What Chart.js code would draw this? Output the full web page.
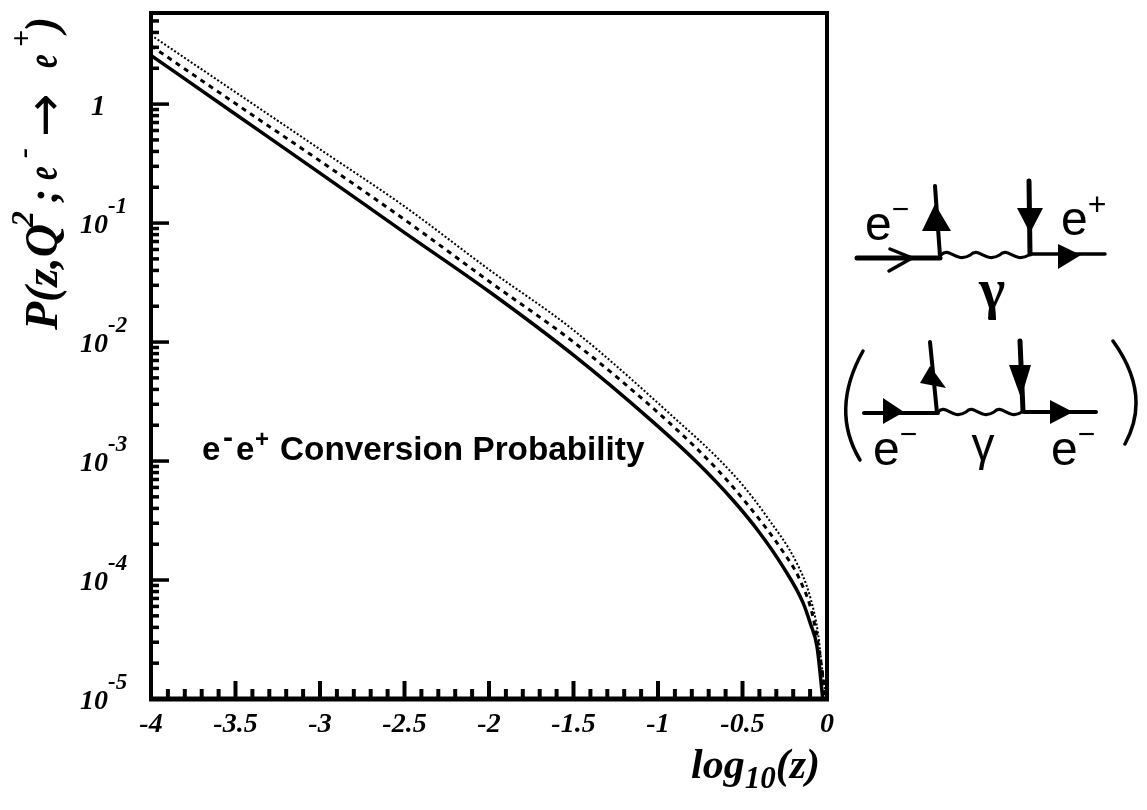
<!DOCTYPE html>
<html>
<head>
<meta charset="utf-8">
<title>Conversion probability</title>
<script src="https://cdn.jsdelivr.net/npm/chart.js@4/dist/chart.umd.min.js"></script>
<style>
html, body { margin: 0; padding: 0; background: #fff; }
canvas { display: block; }
</style>
</head>
<body>
<canvas id="chart" width="1147" height="810"></canvas>
<script>
const solidX = [-4, -3.5, -3, -2.5, -2, -1.5, -1.047, -0.77, -0.556, -0.4, -0.26, -0.142, -0.1, -0.059, -0.025];
const solidP = [2.57, 0.822, 0.263, 0.0832, 0.0266, 0.00776, 0.00224, 0.000977, 0.000468, 0.000251, 0.000129, 0.0000646, 0.0000437, 0.0000275, 0.00001];
const dashedX = [-4, -3.5, -3, -2.5, -2, -1.5, -0.94, -0.65, -0.456, -0.266, -0.16, -0.083, -0.03, -0.01];
const dashedP = [3.09, 1.01, 0.333, 0.107, 0.0324, 0.01, 0.00214, 0.000851, 0.000407, 0.000178, 0.0001, 0.000049, 0.0000178, 0.00001];
const dottedX = [-4, -3.5, -3, -2.5, -2, -1.5, -0.87, -0.65, -0.5, -0.355, -0.178, -0.1, -0.053, -0.024, -0.004];
const dottedP = [3.8, 1.26, 0.417, 0.138, 0.0407, 0.0126, 0.00209, 0.00107, 0.00063, 0.000339, 0.000138, 0.0000724, 0.0000355, 0.0000158, 0.00001];

const xTickValues = [-4, -3.5, -3, -2.5, -2, -1.5, -1, -0.5, 0];
const xTickLabels = ['-4', '-3.5', '-3', '-2.5', '-2', '-1.5', '-1', '-0.5', '0'];
const yDecades = [0.00001, 0.0001, 0.001, 0.01, 0.1, 1];
const yExponents = ['-5', '-4', '-3', '-2', '-1', ''];
const yMultiples = [2, 3, 4, 5, 6, 7, 8, 9];

const serif = '"Liberation Serif", serif';
const sans = '"Liberation Sans", sans-serif';
const dejavu = '"DejaVu Sans", sans-serif';

function points(xs, ys) {
    return xs.map((x, i) => ({ x: x, y: ys[i] }));
}

// text runs with their own size and baseline shift (super/subscripts)
// at = offset from the start, sx = horizontal squeeze of the glyphs
function drawRuns(ctx, runs, x, y, style, family) {
    ctx.textAlign = 'left';
    ctx.textBaseline = 'alphabetic';
    let cur = x;
    runs.forEach(r => {
        ctx.font = (r.style || style) + ' ' + r.size + 'px ' + (r.family || family);
        if (r.at !== undefined) cur = x + r.at;
        const sx = r.sx || 1;
        ctx.save();
        ctx.translate(cur, y + (r.dy || 0));
        ctx.scale(sx, 1);
        ctx.fillText(r.text, 0, 0);
        ctx.restore();
        cur += ctx.measureText(r.text).width * sx + (r.gap || 0);
    });
}

function line(ctx, pts, w) {
    ctx.lineWidth = w;
    ctx.beginPath();
    pts.forEach((p, i) => i ? ctx.lineTo(p[0], p[1]) : ctx.moveTo(p[0], p[1]));
    ctx.stroke();
}

function tri(ctx, pts) {
    ctx.beginPath();
    pts.forEach((p, i) => i ? ctx.lineTo(p[0], p[1]) : ctx.moveTo(p[0], p[1]));
    ctx.closePath();
    ctx.fill();
}

function wave(ctx, x0, x1, y, humps) {
    const step = (x1 - x0) / humps;
    ctx.lineWidth = 3.2;
    ctx.beginPath();
    ctx.moveTo(x0, y);
    for (let i = 0; i < humps; i++) {
        const x = x0 + i * step;
        ctx.bezierCurveTo(x + step * 0.3, y - 9, x + step * 0.5, y + 9, x + step, y);
    }
    ctx.stroke();
}

function drawDiagrams(ctx) {
    ctx.save();
    ctx.strokeStyle = '#000';
    ctx.fillStyle = '#000';
    ctx.lineCap = 'round';

    // upper graph
    line(ctx, [[857, 258], [940, 258]], 5);
    line(ctx, [[890, 249], [912, 258], [889, 271]], 3.5);
    line(ctx, [[940, 256], [935, 186]], 4);
    tri(ctx, [[922, 231], [951, 231], [935, 204]]);
    wave(ctx, 941, 1029, 255, 3);
    line(ctx, [[1030, 254], [1029, 181]], 5);
    tri(ctx, [[1017, 208], [1043, 208], [1030, 233]]);
    line(ctx, [[1030, 254], [1105, 254]], 3.5);
    tri(ctx, [[1058, 244], [1058, 269], [1081, 255]]);
    drawRuns(ctx, [{ text: 'e', size: 48 }, { text: '−', size: 30, dy: -21 }], 865, 240, 'normal', sans);
    drawRuns(ctx, [{ text: 'e', size: 48 }, { text: '+', size: 32, dy: -20 }], 1061, 235, 'normal', sans);
    ctx.font = 'bold 56px ' + serif;
    ctx.textAlign = 'center';
    ctx.fillText('γ', 992, 308);

    // lower graph
    line(ctx, [[864, 413], [938, 413]], 4);
    tri(ctx, [[883, 398], [883, 424], [904, 412]]);
    line(ctx, [[937, 413], [930, 342]], 4);
    tri(ctx, [[920, 383], [946, 388], [930, 366]]);
    wave(ctx, 938, 1022, 412, 3);
    line(ctx, [[1023, 411], [1020, 341]], 5);
    tri(ctx, [[1009, 365], [1031, 365], [1021, 398]]);
    line(ctx, [[1024, 412], [1096, 412]], 4);
    tri(ctx, [[1050, 400], [1050, 424], [1073, 412]]);
    drawRuns(ctx, [{ text: 'e', size: 48 }, { text: '−', size: 30, dy: -21 }], 873, 465, 'normal', sans);
    ctx.font = 'normal 46px ' + sans;
    ctx.textAlign = 'center';
    ctx.fillText('γ', 983, 460);
    drawRuns(ctx, [{ text: 'e', size: 48 }, { text: '−', size: 30, dy: -21 }], 1051, 465, 'normal', sans);

    // brackets
    ctx.lineWidth = 3.5;
    ctx.beginPath();
    ctx.moveTo(863, 351);
    ctx.quadraticCurveTo(830, 410, 860, 460);
    ctx.stroke();
    ctx.beginPath();
    ctx.moveTo(1113, 341);
    ctx.quadraticCurveTo(1152, 395, 1125, 444);
    ctx.stroke();
    ctx.restore();
}

const framePlugin = {
    id: 'frame',
    afterDatasetsDraw(chart) {
        const ctx = chart.ctx;
        const a = chart.chartArea;
        const xs = chart.scales.x;
        const ys = chart.scales.y;
        ctx.save();
        ctx.strokeStyle = '#000';
        ctx.fillStyle = '#000';
        ctx.lineCap = 'butt';

        // inward ticks
        for (let i = 0; i <= 40; i++) {
            const v = -4 + i / 10;
            const major = i % 5 === 0;
            const px = xs.getPixelForValue(v);
            line(ctx, [[px, a.bottom], [px, a.bottom - (major ? 18 : 10)]], 4);
        }
        yDecades.forEach(d => {
            const py = ys.getPixelForValue(d);
            line(ctx, [[a.left, py], [a.left + 18, py]], 3.5);
            yMultiples.forEach(m => {
                const v = d * m;
                if (v <= ys.max) {
                    const p = ys.getPixelForValue(v);
                    line(ctx, [[a.left, p], [a.left + 8, p]], 3.5);
                }
            });
        });

        // frame
        ctx.lineWidth = 4;
        ctx.strokeRect(a.left, a.top, a.right - a.left, a.bottom - a.top);
        line(ctx, [[a.left - 2, a.bottom], [a.right + 2, a.bottom]], 5);

        // y tick labels
        yDecades.forEach((d, i) => {
            const py = ys.getPixelForValue(d);
            if (yExponents[i]) {
                drawRuns(ctx, [{ text: '10', size: 28 }, { text: yExponents[i], size: 23, dy: -20 }], 80, py + 10, 'italic bold', serif);
            } else {
                drawRuns(ctx, [{ text: '1', size: 29 }], 91, py + 11, 'italic bold', serif);
            }
        });

        // axis titles
        drawRuns(ctx, [
            { text: 'log', size: 42 },
            { text: '10', size: 31, dy: 10 },
            { text: '(z)', size: 42 }
        ], 691, 778, 'italic bold', serif);

        ctx.save();
        ctx.translate(57, 330);
        ctx.rotate(-Math.PI / 2);
        drawRuns(ctx, [
            { text: 'P(z,Q', size: 46, at: 0 },
            { text: '2', size: 32, dy: -24, at: 103 },
            { text: ';', size: 42, at: 127 },
            { text: 'e', size: 44, at: 150, sx: 0.7 },
            { text: '-', size: 30, dy: -24, at: 172 },
            { text: '→', size: 52, dy: 5, at: 193, style: 'normal', family: dejavu },
            { text: 'e', size: 44, at: 262, sx: 0.7 },
            { text: '+', size: 30, dy: -26, at: 283 },
            { text: ')', size: 46, at: 298 }
        ], 0, 0, 'italic bold', serif);
        ctx.restore();

        // inset note
        drawRuns(ctx, [
            { text: 'e', size: 33, at: 0 },
            { text: '-', size: 30, dy: -13, at: 21 },
            { text: 'e', size: 33, at: 34 },
            { text: '+', size: 24, dy: -13, at: 53 },
            { text: 'Conversion Probability', size: 33.3, at: 78 }
        ], 202, 460, 'bold', sans);

        ctx.restore();
        drawDiagrams(ctx);
    }
};

new Chart(document.getElementById('chart').getContext('2d'), {
    type: 'line',
    plugins: [framePlugin],
    data: {
        datasets: [{
            label: 'solid',
            data: points(solidX, solidP),
            borderColor: '#000',
            borderWidth: 3.5
        }, {
            label: 'dashed',
            data: points(dashedX, dashedP),
            borderColor: '#000',
            borderWidth: 3,
            borderDash: [5, 5]
        }, {
            label: 'dotted',
            data: points(dottedX, dottedP),
            borderColor: '#000',
            borderWidth: 2,
            borderDash: [2, 2]
        }]
    },
    options: {
        responsive: false,
        animation: false,
        parsing: { xAxisKey: 'x', yAxisKey: 'y' },
        elements: {
            point: { radius: 0 },
            line: { cubicInterpolationMode: 'monotone' }
        },
        layout: { padding: { left: 151, top: 13, right: 320, bottom: 0 } },
        plugins: {
            legend: { display: false },
            tooltip: { enabled: false },
            title: { display: false }
        },
        scales: {
            x: {
                type: 'linear',
                min: -4,
                max: 0,
                grid: { display: false, drawTicks: false },
                border: { display: false },
                afterFit: s => { s.height = 111; },
                afterBuildTicks: s => { s.ticks = xTickValues.map(v => ({ value: v })); },
                ticks: {
                    autoSkip: false,
                    maxRotation: 0,
                    padding: 9,
                    color: '#000',
                    font: { family: serif, size: 28, style: 'italic', weight: 'bold' },
                    callback: v => xTickLabels[xTickValues.indexOf(v)]
                }
            },
            y: {
                type: 'logarithmic',
                min: 0.00001,
                max: 5.83,
                grid: { display: false, drawTicks: false },
                border: { display: false },
                ticks: { display: false }
            }
        }
    }
});
</script>
</body>
</html>
